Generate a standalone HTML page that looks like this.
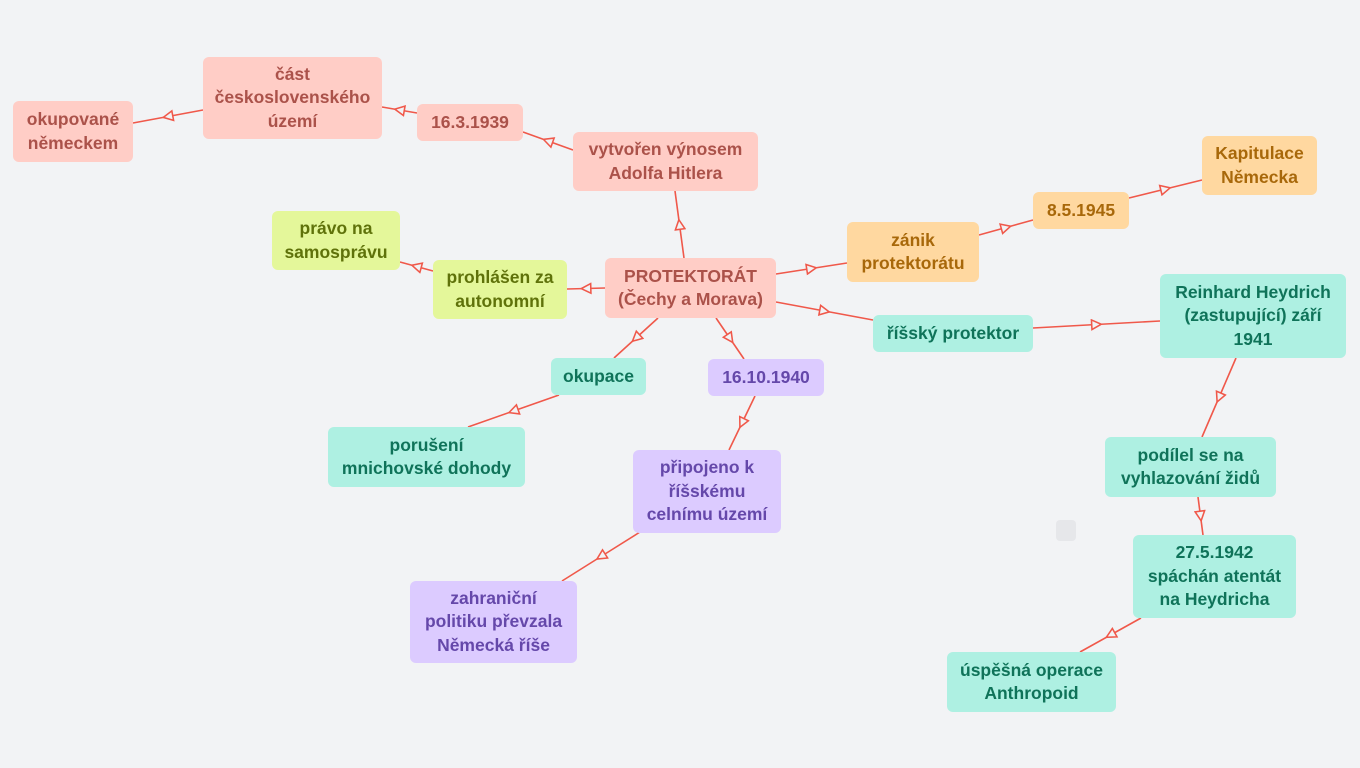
<!DOCTYPE html>
<html><head><meta charset="utf-8"><style>
body{margin:0;width:1360px;height:768px;background:#f2f3f5;position:relative;overflow:hidden;font-family:"Liberation Sans",sans-serif}
.n{position:absolute;display:flex;align-items:center;justify-content:center;text-align:center;font-weight:bold;font-size:17.5px;line-height:23.5px;border-radius:6px;box-sizing:border-box;white-space:nowrap}
.p{background:#ffcdc6;color:#ab524a}
.y{background:#e4f79a;color:#5f720a}
.o{background:#ffd8a0;color:#a8680a}
.t{background:#aef0e2;color:#0f7359}
.v{background:#dccbff;color:#6548aa}
svg{position:absolute;left:0;top:0}
</style></head><body>
<svg width="1360" height="768">
<defs><marker id="a" viewBox="0 0 10 10" refX="5" refY="5" markerWidth="12" markerHeight="12" orient="auto" markerUnits="userSpaceOnUse"><path d="M1,1 L9,5 L1,9 Z" fill="#f2f3f5" stroke="#f0584a" stroke-width="1.3"/></marker></defs>
<g stroke="#f0584a" stroke-width="1.6" fill="none" marker-mid="url(#a)">
<polyline points="684,258 679.5,224.5 675,191"/>
<polyline points="573,150 548,141 523,132"/>
<polyline points="417,113 399.5,110 382,107"/>
<polyline points="203,110 168,116.5 133,123"/>
<polyline points="605,288 586,288.5 567,289"/>
<polyline points="433,271 416.5,266.5 400,262"/>
<polyline points="776,274 811.5,268.5 847,263"/>
<polyline points="979,235 1006,227.5 1033,220"/>
<polyline points="1129,198 1165.5,189 1202,180"/>
<polyline points="776,302 824.5,311 873,320"/>
<polyline points="1033,328 1096.5,324.5 1160,321"/>
<polyline points="1236,358 1219,397.5 1202,437"/>
<polyline points="1198,497 1200.5,516 1203,535"/>
<polyline points="1141,618 1110.5,635 1080,652"/>
<polyline points="658,318 636,338 614,358"/>
<polyline points="559,395 513.5,411 468,427"/>
<polyline points="716,318 730,338.5 744,359"/>
<polyline points="755,396 742,423 729,450"/>
<polyline points="640,532 601,556.5 562,581"/>
</g>
</svg>
<div class="n p" style="left:13px;top:101px;width:120px;height:61px">okupované<br>německem</div>
<div class="n p" style="left:203px;top:57px;width:179px;height:82px">část<br>československého<br>území</div>
<div class="n p" style="left:417px;top:104px;width:106px;height:37px">16.3.1939</div>
<div class="n p" style="left:573px;top:132px;width:185px;height:59px">vytvořen výnosem<br>Adolfa Hitlera</div>
<div class="n p" style="left:605px;top:258px;width:171px;height:60px">PROTEKTORÁT<br>(Čechy a Morava)</div>
<div class="n y" style="left:272px;top:211px;width:128px;height:59px">právo na<br>samosprávu</div>
<div class="n y" style="left:433px;top:260px;width:134px;height:59px">prohlášen za<br>autonomní</div>
<div class="n o" style="left:847px;top:222px;width:132px;height:60px">zánik<br>protektorátu</div>
<div class="n o" style="left:1033px;top:192px;width:96px;height:37px">8.5.1945</div>
<div class="n o" style="left:1202px;top:136px;width:115px;height:59px">Kapitulace<br>Německa</div>
<div class="n t" style="left:873px;top:315px;width:160px;height:37px">říšský protektor</div>
<div class="n t" style="left:1160px;top:274px;width:186px;height:84px">Reinhard Heydrich<br>(zastupující) září<br>1941</div>
<div class="n t" style="left:551px;top:358px;width:95px;height:37px">okupace</div>
<div class="n v" style="left:708px;top:359px;width:116px;height:37px">16.10.1940</div>
<div class="n t" style="left:328px;top:427px;width:197px;height:60px">porušení<br>mnichovské dohody</div>
<div class="n v" style="left:633px;top:450px;width:148px;height:83px">připojeno k<br>říšskému<br>celnímu území</div>
<div class="n v" style="left:410px;top:581px;width:167px;height:82px">zahraniční<br>politiku převzala<br>Německá říše</div>
<div class="n t" style="left:1105px;top:437px;width:171px;height:60px">podílel se na<br>vyhlazování židů</div>
<div class="n t" style="left:1133px;top:535px;width:163px;height:83px">27.5.1942<br>spáchán atentát<br>na Heydricha</div>
<div class="n t" style="left:947px;top:652px;width:169px;height:60px">úspěšná operace<br>Anthropoid</div>
<div style="position:absolute;left:1056px;top:520px;width:20px;height:21px;background:#e6e7ea;border-radius:4px"></div>
</body></html>
